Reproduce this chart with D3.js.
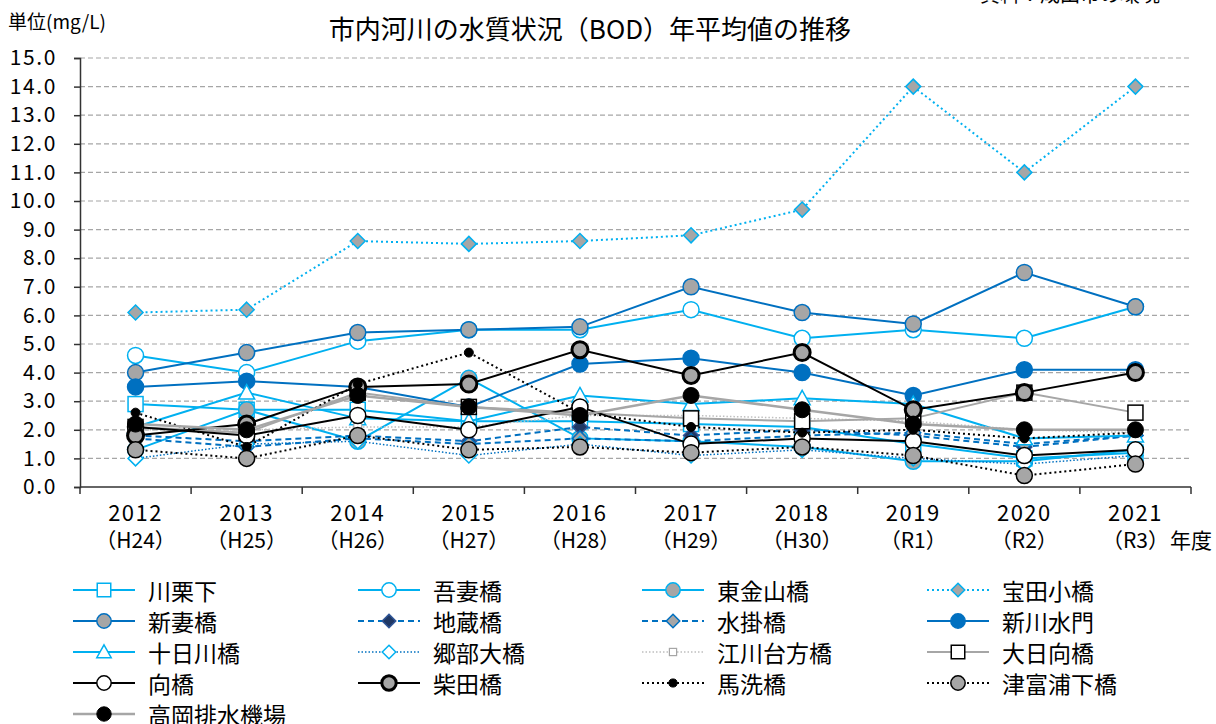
<!DOCTYPE html>
<html>
<head>
<meta charset="utf-8">
<script src="https://cdn.jsdelivr.net/npm/d3@7"></script>
<style>
  body { margin: 0; background: #fff; }
  svg { font-family: "Noto Sans CJK JP", sans-serif; }
</style>
</head>
<body>
<svg id="chart" width="1216" height="724"></svg>
<script>
// categories and tick labels
var years = ["2012", "2013", "2014", "2015", "2016", "2017", "2018", "2019", "2020", "2021"];
var eras = ["（H24）", "（H25）", "（H26）", "（H27）", "（H28）", "（H29）", "（H30）", "（R1）", "（R2）", "（R3）"];
var yTicks = [0, 1, 2, 3, 4, 5, 6, 7, 8, 9, 10, 11, 12, 13, 14, 15];

// BOD yearly averages (mg/L)
var kawakurishita = [2.9, 2.7, 2.7, 2.3, 2.3, 2.2, 2.1, 1.5, 1.0, 1.2];
var azumabashi = [4.6, 4.0, 5.1, 5.5, 5.5, 6.2, 5.2, 5.5, 5.2, 6.3];
var togane = [1.3, 2.7, 1.6, 3.8, 1.7, 1.6, 1.4, 0.9, 0.9, 1.3];
var takarada = [6.1, 6.2, 8.6, 8.5, 8.6, 8.8, 9.7, 14.0, 11.0, 14.0];
var shinzuma = [4.0, 4.7, 5.4, 5.5, 5.6, 7.0, 6.1, 5.7, 7.5, 6.3];
var jizo = [1.8, 1.6, 1.8, 1.6, 2.1, 1.8, 2.0, 1.8, 1.4, 1.8];
var mizukake = [1.7, 1.4, 1.7, 1.5, 1.7, 1.6, 1.8, 1.9, 1.5, 1.8];
var shinkawa = [3.5, 3.7, 3.5, 2.8, 4.3, 4.5, 4.0, 3.2, 4.1, 4.1];
var tokagawa = [2.1, 3.3, 2.4, 2.3, 3.2, 2.9, 3.1, 2.9, 1.7, 1.8];
var gobe = [1.0, 1.5, 1.6, 1.1, 1.5, 1.1, 1.3, 1.0, 0.8, 1.1];
var egawa = [2.0, 2.0, 2.1, 2.1, 2.5, 2.5, 2.4, 2.3, 2.0, 1.9];
var oohinata = [2.1, 1.9, 3.3, 2.8, 2.6, 2.4, 2.3, 2.4, 3.3, 2.6];
var mukai = [2.1, 1.8, 2.5, 2.0, 2.8, 1.5, 1.7, 1.6, 1.1, 1.3];
var shibata = [1.8, 2.2, 3.5, 3.6, 4.8, 3.9, 4.7, 2.7, 3.3, 4.0];
var magome = [2.6, 1.4, 3.6, 4.7, 2.6, 2.1, 1.9, 2.0, 1.7, 1.9];
var tsutomi = [1.3, 1.0, 1.8, 1.3, 1.4, 1.2, 1.4, 1.1, 0.4, 0.8];
var takaoka = [2.2, 2.0, 3.2, 2.8, 2.5, 3.2, 2.7, 2.2, 2.0, 2.0];

var LB = "#00b0f0", BL = "#0070c0", GR = "#a6a6a6";

// series table (legend order)
var series = [
  { name: "川栗下", values: kawakurishita, color: LB, width: 2, dash: null, mk: "square", fill: "#fff", mstroke: LB, mw: 1.5 },
  { name: "吾妻橋", values: azumabashi, color: LB, width: 2, dash: null, mk: "circle", fill: "#fff", mstroke: LB, mw: 1.5 },
  { name: "東金山橋", values: togane, color: LB, width: 2, dash: null, mk: "circle", fill: GR, mstroke: LB, mw: 1.5 },
  { name: "宝田小橋", values: takarada, color: LB, width: 2, dash: "2,3", mk: "diamond", fill: GR, mstroke: LB, mw: 1.5 },
  { name: "新妻橋", values: shinzuma, color: BL, width: 2, dash: null, mk: "circle", fill: GR, mstroke: BL, mw: 1.5 },
  { name: "地蔵橋", values: jizo, color: BL, width: 2, dash: "6,4", mk: "diamond", fill: "#203864", mstroke: "#2f5597", mw: 1.5 },
  { name: "水掛橋", values: mizukake, color: BL, width: 2, dash: "6,4", mk: "diamond", fill: GR, mstroke: BL, mw: 1.5 },
  { name: "新川水門", values: shinkawa, color: BL, width: 2, dash: null, mk: "circle", fill: BL, mstroke: BL, mw: 1.5 },
  { name: "十日川橋", values: tokagawa, color: LB, width: 2, dash: null, mk: "triangle", fill: "#fff", mstroke: LB, mw: 1.5 },
  { name: "郷部大橋", values: gobe, color: BL, width: 1.5, dash: "1.5,2", mk: "diamond", fill: "#fff", mstroke: LB, mw: 1.5 },
  { name: "江川台方橋", values: egawa, color: "#bfbfbf", width: 1.5, dash: "1.5,2", mk: "smallsquare", fill: "#fff", mstroke: GR, mw: 1.2 },
  { name: "大日向橋", values: oohinata, color: GR, width: 2, dash: null, mk: "square", fill: "#fff", mstroke: "#000", mw: 1.5 },
  { name: "向橋", values: mukai, color: "#000", width: 2, dash: null, mk: "circle", fill: "#fff", mstroke: "#000", mw: 1.5 },
  { name: "柴田橋", values: shibata, color: "#000", width: 2, dash: null, mk: "circle", fill: GR, mstroke: "#000", mw: 3 },
  { name: "馬洗橋", values: magome, color: "#000", width: 2, dash: "2,3", mk: "dot", fill: "#000", mstroke: "#000", mw: 1 },
  { name: "津富浦下橋", values: tsutomi, color: "#000", width: 2, dash: "2,3", mk: "circle", fill: GR, mstroke: "#000", mw: 1.5 },
  { name: "高岡排水機場", values: takaoka, color: GR, width: 2.5, dash: null, mk: "circle", fill: "#000", mstroke: "#000", mw: 1 }
];

var svg = d3.select("#chart");
var plotLeft = 80, plotRight = 1191, plotTop = 58, plotBottom = 487;

var x = d3.scalePoint().domain(years).range([plotLeft, plotRight]).padding(0.5);
var xb = d3.scaleBand().domain(years).range([plotLeft, plotRight]);
var y = d3.scaleLinear().domain([0, 15]).range([plotBottom, plotTop]);

// gridlines
svg.append("g")
  .selectAll("line")
  .data(yTicks.filter((d) => d > 0))
  .enter()
  .append("line")
  .attr("x1", plotLeft)
  .attr("x2", plotRight)
  .attr("y1", (d) => y(d))
  .attr("y2", (d) => y(d))
  .attr("stroke", "#a6a6a6")
  .attr("stroke-width", 1.2)
  .attr("stroke-dasharray", "5,3");

// y axis
var yAxis = svg.append("g")
  .attr("transform", "translate(" + plotLeft + ",0)")
  .call(d3.axisLeft(y).tickValues(yTicks).tickFormat(d3.format(".1f")).tickSize(6).tickPadding(17));
yAxis.selectAll("text")
  .attr("font-size", 21)
  .attr("letter-spacing", 1.6)
  .attr("fill", "#000")
  .attr("font-family", "'Noto Sans CJK JP', sans-serif");
yAxis.selectAll("line").attr("stroke", "#333").attr("stroke-width", 1.5);
yAxis.select(".domain").attr("stroke", "#333").attr("stroke-width", 1.5);

// x axis with ticks between categories
var xAxis = svg.append("g");
xAxis.append("line")
  .attr("x1", plotLeft).attr("x2", plotRight)
  .attr("y1", plotBottom).attr("y2", plotBottom)
  .attr("stroke", "#333").attr("stroke-width", 1.5);
xAxis.selectAll(".tk")
  .data(years.map((d) => xb(d)).concat([plotRight]))
  .enter()
  .append("line")
  .attr("x1", (d) => d).attr("x2", (d) => d)
  .attr("y1", plotBottom).attr("y2", plotBottom + 7)
  .attr("stroke", "#333").attr("stroke-width", 1.5);
xAxis.selectAll(".yr")
  .data(years)
  .enter()
  .append("text")
  .attr("x", (d) => x(d))
  .attr("y", 511)
  .attr("dominant-baseline", "central")
  .attr("text-anchor", "middle")
  .attr("font-size", 22)
  .attr("letter-spacing", 1.5)
  .text((d) => d);
xAxis.selectAll(".era")
  .data(years)
  .enter()
  .append("text")
  .attr("x", (d) => x(d))
  .attr("y", 539)
  .attr("dominant-baseline", "central")
  .attr("text-anchor", "middle")
  .attr("font-size", 21)
  .text((d, i) => eras[i]);
svg.append("text")
  .attr("x", 1170).attr("y", 539)
  .attr("dominant-baseline", "central")
  .attr("font-size", 21)
  .text("年度");

// titles
svg.append("text")
  .attr("x", 590).attr("y", 27)
  .attr("dominant-baseline", "central")
  .attr("text-anchor", "middle")
  .attr("font-size", 26)
  .text("市内河川の水質状況（BOD）年平均値の推移");
svg.append("text")
  .attr("x", 8).attr("y", 20)
  .attr("dominant-baseline", "central")
  .attr("font-size", 19)
  .text("単位(mg/L)");
svg.append("text")
  .attr("x", 980).attr("y", 2)
  .attr("font-size", 20)
  .text("資料：成田市の環境");

// marker drawing
function marker(g, s, cx, cy, k) {
  var m;
  if (s.mk === "circle") {
    m = g.append("circle").attr("cx", cx).attr("cy", cy).attr("r", 8 * k);
  } else if (s.mk === "dot") {
    m = g.append("circle").attr("cx", cx).attr("cy", cy).attr("r", 4.5 * k);
  } else if (s.mk === "square" || s.mk === "smallsquare") {
    var h = (s.mk === "square" ? 7.5 : 4) * k;
    m = g.append("rect").attr("x", cx - h).attr("y", cy - h).attr("width", 2 * h).attr("height", 2 * h);
  } else if (s.mk === "diamond") {
    var r = 7.5 * k;
    m = g.append("path").attr("d", "M" + cx + "," + (cy - r) + "L" + (cx + r) + "," + cy + "L" + cx + "," + (cy + r) + "L" + (cx - r) + "," + cy + "Z");
  } else if (s.mk === "triangle") {
    var t = 8 * k;
    m = g.append("path").attr("d", "M" + cx + "," + (cy - t) + "L" + (cx + t) + "," + (cy + t * 0.8) + "L" + (cx - t) + "," + (cy + t * 0.8) + "Z");
  }
  m.attr("fill", s.fill).attr("stroke", s.mstroke).attr("stroke-width", s.mw);
}

// lines and markers
var line = d3.line()
  .x((d, i) => x(years[i]))
  .y((d) => y(d));

series.forEach(function (s) {
  var g = svg.append("g");
  g.append("path")
    .attr("d", line(s.values))
    .attr("fill", "none")
    .attr("stroke", s.color)
    .attr("stroke-width", s.width)
    .attr("stroke-dasharray", s.dash);
  s.values.forEach(function (v, i) {
    marker(g, s, x(years[i]), y(v), 1);
  });
});

// legend
var colX = [73, 358, 642, 927];
var rowY = [590, 621, 652, 683, 714];
series.forEach(function (s, i) {
  var lx = colX[i % 4], ly = rowY[Math.floor(i / 4)];
  var g = svg.append("g");
  g.append("line")
    .attr("x1", lx).attr("x2", lx + 62)
    .attr("y1", ly).attr("y2", ly)
    .attr("stroke", s.color)
    .attr("stroke-width", s.width)
    .attr("stroke-dasharray", s.dash);
  marker(g, s, lx + 31, ly, 0.9);
  g.append("text")
    .attr("x", lx + 75).attr("y", ly)
    .attr("dominant-baseline", "central")
    .attr("font-size", 23)
    .text(s.name);
});
</script>
</body>
</html>
